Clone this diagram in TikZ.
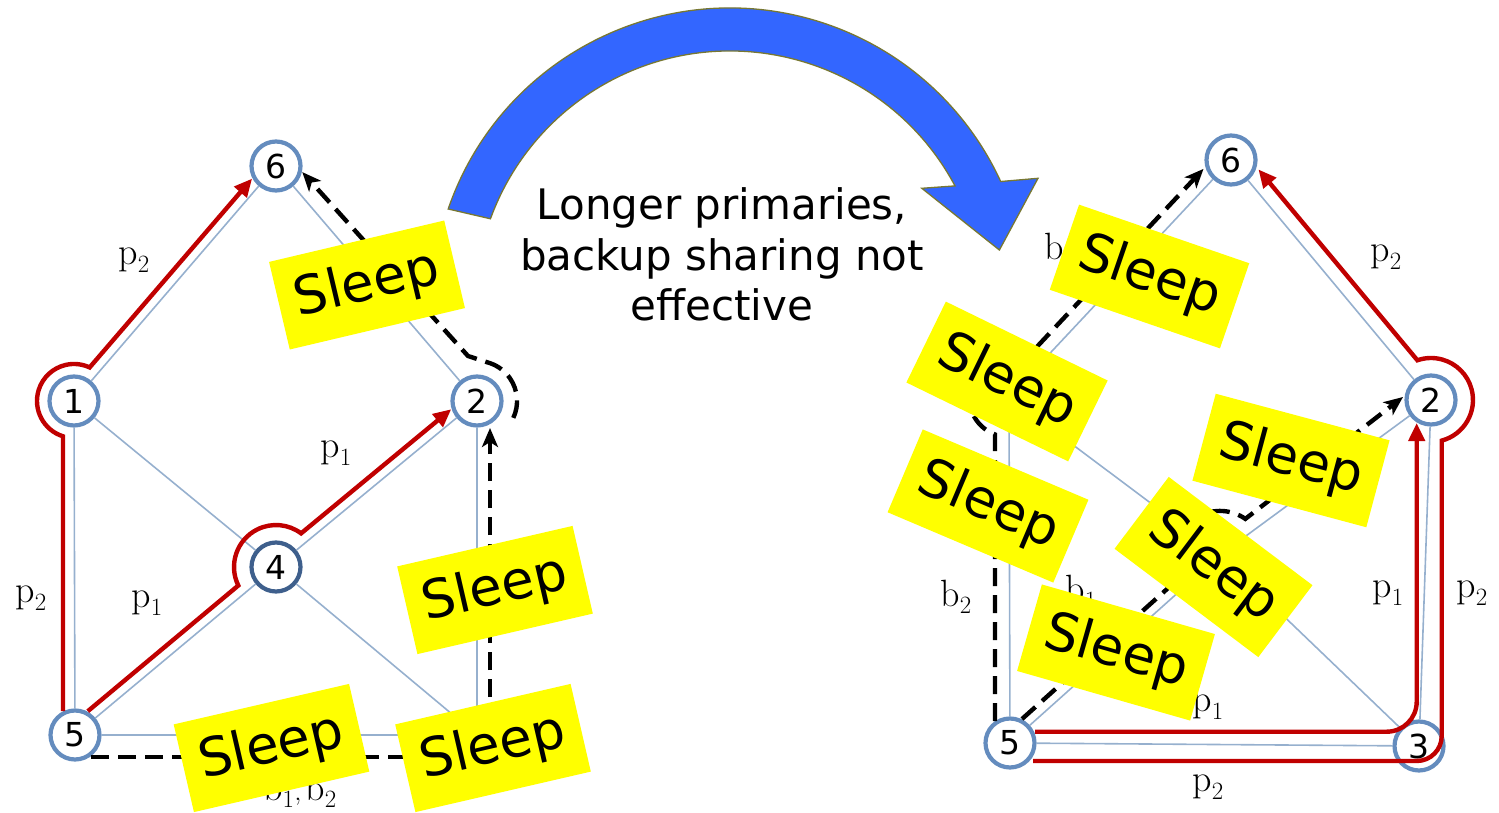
\documentclass[tikz,border=0pt]{standalone}
\usepackage{fontspec}
\newfontfamily\dejavu{DejaVu Sans}
\usetikzlibrary{arrows.meta,calc}
\definecolor{edgeblue}{RGB}{150,176,206}
\definecolor{ringblue}{RGB}{100,140,190}
\definecolor{ringdark}{RGB}{62,95,140}
\definecolor{pathred}{RGB}{192,0,0}
\definecolor{arrowblue}{RGB}{51,102,255}
\definecolor{arrowrim}{RGB}{120,120,50}
\definecolor{sleepyellow}{RGB}{255,255,0}
\begin{document}
\begin{tikzpicture}[x=1pt,y=1pt,
  vertex/.style={circle,draw=ringblue,line width=4.2pt,fill=white,minimum size=49pt,
    inner sep=0pt,font=\dejavu\fontsize{33}{33}\selectfont},
  link/.style={draw=edgeblue,line width=1.6pt},
  primary/.style={draw=pathred,line width=4.4pt,-{Triangle[length=18pt,width=16pt]}},
  backup/.style={draw=black,line width=4.4pt,dash pattern=on 18pt off 9pt,
    -{Stealth[length=19pt,width=16pt,inset=5pt]}},
  lbl/.style={font=\fontsize{38}{38}\selectfont,text=black,inner sep=0pt},
  caption/.style={font=\dejavu\fontsize{42}{50}\selectfont,inner sep=0pt},
  sleepbox/.style={fill=sleepyellow,minimum width=180pt,minimum height=90pt,
    inner sep=0pt,font=\dejavu\fontsize{53}{53}\selectfont}
]
\useasboundingbox (0,-813) rectangle (1499,0);

% ---------- left network ----------
\node[vertex] (l6) at (276,-166) {6};
\node[vertex] (l1) at (74,-401) {1};
\node[vertex] (l2) at (477,-401) {2};
\node[vertex,draw=ringdark] (l4) at (276,-567) {4};
\node[vertex] (l5) at (75,-735) {5};
\node[vertex] (l3) at (477,-735) {};

\draw[link] (l1) -- (l6);
\draw[link] (l6) -- (l2);
\draw[link] (l1) -- (l4);
\draw[link] (l4) -- (l2);
\draw[link] (l5) -- (l4);
\draw[link] (l4) -- (l3);
\draw[link] (l1) -- (l5);
\draw[link] (l5) -- (l3);
\draw[link] (l2) -- (l3);

% primaries
\draw[primary] (63,-711) -- (63,-436.3) arc[start angle=252.7,end angle=65,radius=37] -- (252.1,-178.6);
\draw[primary] (87.8,-711.2) -- (238.3,-585.5) arc[start angle=206.1,end angle=53.3,radius=42] -- (451.3,-409.2);
% backups
\draw[backup] (91,-757) -- (490,-757) -- (490,-428);
\draw[backup] (513.3,-417.9) arc[start angle=-25,end angle=70,radius=40] -- (468,-356) -- (302.3,-172.1);

\node[lbl] (lp2a) at (134,-260) {$\mathrm{p}_2$};
\node[lbl] (lp1a) at (336,-453) {$\mathrm{p}_1$};
\node[lbl] (lp2b) at (31,-598) {$\mathrm{p}_2$};
\node[lbl] (lp1b) at (147,-603) {$\mathrm{p}_1$};
\node[lbl] (lb12) at (300,-791) {$\mathrm{b}_1,\mathrm{b}_2$};

% ---------- right network ----------
\node[vertex] (r6) at (1231,-160) {6};
\node[vertex] (r1) at (1009,-397) {};
\node[vertex] (r2) at (1431,-400) {2};
\node[vertex] (r4) at (1220,-555) {};
\node[vertex] (r5) at (1010,-743) {5};
\node[vertex] (r3) at (1419,-746) {3};

\draw[link] (r1) -- (r6);
\draw[link] (r6) -- (r2);
\draw[link] (r1) -- (r4);
\draw[link] (r4) -- (r2);
\draw[link] (r5) -- (r4);
\draw[link] (r4) -- (r3);
\draw[link] (r1) -- (r5);
\draw[link] (r5) -- (r3);
\draw[link] (r2) -- (r3);

% primaries
\draw[primary] (1035,-731.7) -- (1386.7,-731.7) arc[start angle=-90,end angle=0,radius=30] -- (1416.7,-423);
\draw[primary] (1033,-761) -- (1416.7,-761) arc[start angle=-90,end angle=0,radius=25]
  -- (1441.7,-440.6) arc[start angle=-75.2,end angle=108.9,radius=42] -- (1258.4,-169.4);
% backups
\draw[backup] (1022,-719) -- (1181.5,-576.05) arc[start angle=208.7,end angle=55,radius=44] -- (1403,-397);
\draw[backup] (995,-721) -- (995,-434.5) arc[start angle=249.5,end angle=67.3,radius=40] -- (1203.5,-168.9);

\node[lbl] (rb2a) at (1060,-250) {$\mathrm{b}_2$};
\node[lbl] (rb2b) at (956,-597) {$\mathrm{b}_2$};
\node[lbl] (rb1) at (1081,-592) {$\mathrm{b}_1$};
\node[lbl] (rp2a) at (1386,-257) {$\mathrm{p}_2$};
\node[lbl] (rp1a) at (1388,-593) {$\mathrm{p}_1$};
\node[lbl] (rp2b) at (1472,-593) {$\mathrm{p}_2$};
\node[lbl] (rp1b) at (1208,-707) {$\mathrm{p}_1$};
\node[lbl] (rp2c) at (1208,-787) {$\mathrm{p}_2$};

% ---------- curved transition arrow and caption ----------
\filldraw[fill=arrowblue,draw=arrowrim,line width=1.3pt]
  (448.2,-209) arc[start angle=161,end angle=24.7,radius=298]
  -- (1038,-178.3) -- (999.4,-250) -- (921.8,-188.3) -- (955,-185.9)
  arc[start angle=28.1,end angle=160,radius=255] -- cycle;
\node[caption,anchor=base] (cap1) at (722,-220) {Longer primaries,};
\node[caption,anchor=base] (cap2) at (722,-270) {backup sharing not};
\node[caption,anchor=base] (cap3) at (722,-320) {effective};

% ---------- sleeping links ----------
\node[sleepbox,rotate=13.3] (sA) at (367,-285) {Sleep};
\node[sleepbox,rotate=13] (sB) at (495,-590) {Sleep};
\node[sleepbox,rotate=13] (sC) at (271.5,-748) {Sleep};
\node[sleepbox,rotate=13] (sD) at (493,-748) {Sleep};

\node[sleepbox,rotate=-19] (s1) at (1149.5,-276.5) {Sleep};
\node[sleepbox,rotate=-26] (s2) at (1007,-381.5) {Sleep};
\node[sleepbox,rotate=-23] (s3) at (988,-506) {Sleep};
\node[sleepbox,rotate=-15] (s4) at (1291,-460.5) {Sleep};
\node[sleepbox,rotate=-37] (s5) at (1213.5,-567) {Sleep};
\node[sleepbox,rotate=-16] (s6) at (1116,-652.5) {Sleep};
\end{tikzpicture}
\end{document}
